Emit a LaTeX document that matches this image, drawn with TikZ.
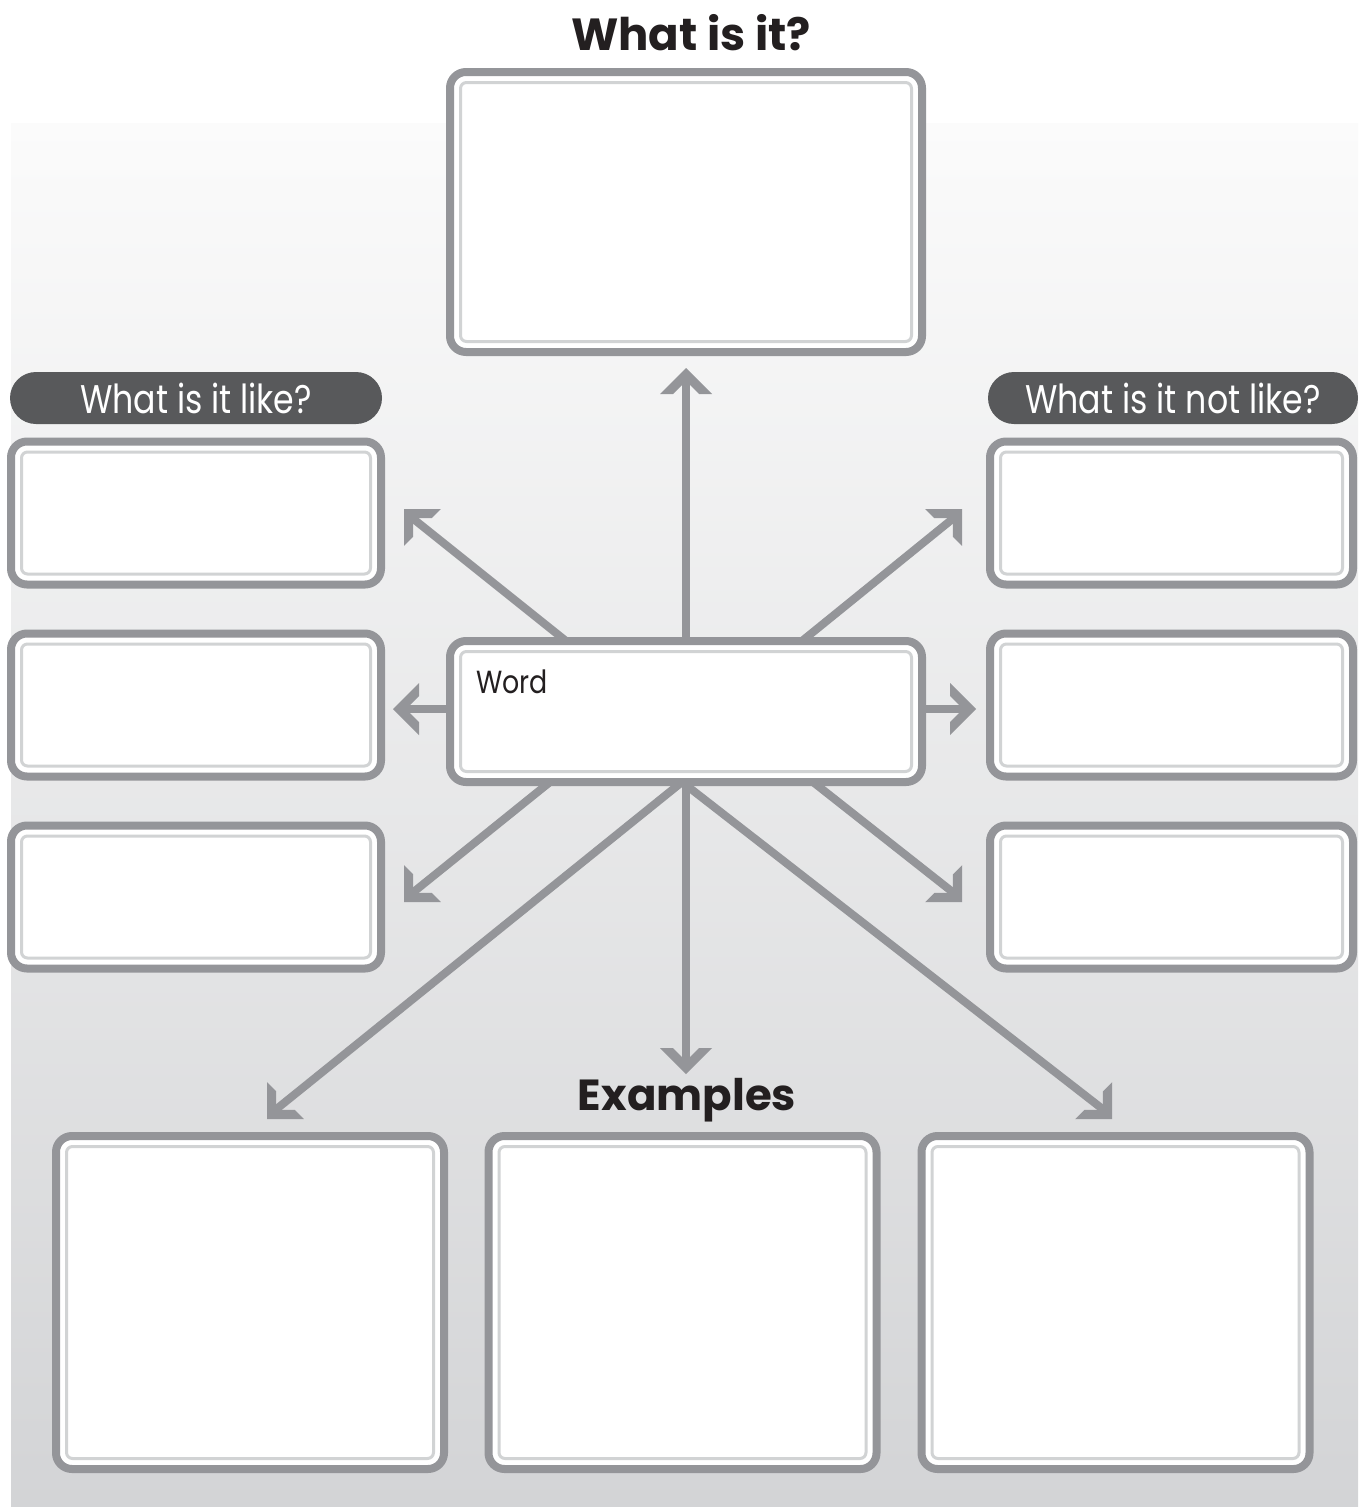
\documentclass[tikz,border=0pt]{standalone}
\usepackage{fontspec}
\setmainfont{Poppins}

\definecolor{frame}{HTML}{949599}
\definecolor{innerline}{HTML}{D1D3D4}
\definecolor{pill}{HTML}{58595B}
\definecolor{ink}{HTML}{231F20}
\definecolor{bgtop}{HTML}{FBFBFB}
\definecolor{bgbottom}{HTML}{D3D4D6}

% narrower setting of the light captions
\newcommand\narrowtext[1]{\scalebox{0.83}[1]{#1}}

% Chevron arrow head: a 90 degree corner with a notched back
\pgfdeclarearrow{
  name = Chev,
  setup code = {
    \pgfarrowssettipend{0pt}
    \pgfarrowssetlineend{-6pt}
    \pgfarrowssetvisualbackend{-26pt}
    \pgfarrowssetbackend{-26pt}
    \pgfarrowshullpoint{0pt}{0pt}
    \pgfarrowshullpoint{-26pt}{26pt}
    \pgfarrowshullpoint{-26pt}{-26pt}
  },
  drawing code = {
    \pgfpathmoveto{\pgfqpoint{0pt}{0pt}}
    \pgfpathlineto{\pgfqpoint{-26pt}{26pt}}
    \pgfpathlineto{\pgfqpoint{-26pt}{13pt}}
    \pgfpathlineto{\pgfqpoint{-13pt}{0pt}}
    \pgfpathlineto{\pgfqpoint{-26pt}{-13pt}}
    \pgfpathlineto{\pgfqpoint{-26pt}{-26pt}}
    \pgfpathclose
    \pgfusepathqfill
  }
}

\pgfdeclarelayer{bglayer}
\pgfdeclarelayer{arrowlayer}
\pgfsetlayers{bglayer,arrowlayer,main}

\begin{document}
\begin{tikzpicture}[x=1pt,y=-1pt,
  box/.style={draw=frame, line width=8pt, fill=white, rounded corners=16pt,
    inner sep=0pt, outer sep=0pt},
  lining/.style={draw=innerline, line width=3pt, rounded corners=6pt},
  pillbox/.style={fill=pill, rounded corners=26pt, minimum height=52pt,
    inner sep=0pt, outer sep=0pt, text=white,
    font=\fontsize{40}{40}\selectfont},
  heading/.style={text=ink, inner sep=0pt, anchor=base,
    font=\fontsize{45}{45}\selectfont\bfseries},
  conn/.style={draw=frame, line width=8pt, line join=round, -Chev},
]
\useasboundingbox (0,0) rectangle (1358,1507);

% page background
\begin{pgfonlayer}{bglayer}
  \fill[white] (0,0) rectangle (1358,1507);
  \shade[top color=bgtop, bottom color=bgbottom] (11,123) rectangle (1358,1507);
\end{pgfonlayer}

% headings
\node[heading] (title) at (691,50) {What is it?};
\node[heading, font=\fontsize{43.5}{43.5}\selectfont\bfseries] (examples) at (687,1110) {Examples};

% main boxes
\node[box, minimum width=472pt, minimum height=280pt] (what) at (686,212) {};
\node[box, minimum width=472pt, minimum height=141pt] (word) at (686,711.5) {};
\node[anchor=base west, inner sep=0pt, text=ink, font=\fontsize{32}{32}\selectfont]
  (wordlabel) at (476,693) {\scalebox{0.84}[1]{Word}};

% "like" column
\node[pillbox, minimum width=372pt] (likehead) at (196,398) {\narrowtext{What is it like?}};
\node[box, minimum width=370pt, minimum height=143pt] (like1) at (196,513) {};
\node[box, minimum width=370pt, minimum height=143pt] (like2) at (196,705) {};
\node[box, minimum width=370pt, minimum height=143pt] (like3) at (196,897) {};

% "not like" column
\node[pillbox, minimum width=370pt] (unlikehead) at (1173,398) {\narrowtext{What is it not like?}};
\node[box, minimum width=363pt, minimum height=143pt] (unlike1) at (1171.5,513) {};
\node[box, minimum width=363pt, minimum height=143pt] (unlike2) at (1171.5,705) {};
\node[box, minimum width=363pt, minimum height=143pt] (unlike3) at (1171.5,897) {};

% example boxes
\node[box, minimum width=388pt, minimum height=333pt] (ex1) at (250,1302.5) {};
\node[box, minimum width=388pt, minimum height=333pt] (ex2) at (682.5,1302.5) {};
\node[box, minimum width=388pt, minimum height=333pt] (ex3) at (1115.5,1302.5) {};

% light inner rule of every box
\foreach \n in {what,word,like1,like2,like3,unlike1,unlike2,unlike3,ex1,ex2,ex3}
  \draw[lining] ([shift={(10.5,10.5)}]\n.north west) rectangle ([shift={(-10.5,-10.5)}]\n.south east);

% arrow tips
\coordinate (tU)  at (686,368);
\coordinate (tUL) at (404,509);
\coordinate (tUR) at (962,509);
\coordinate (tL)  at (393,709);
\coordinate (tR)  at (976,709);
\coordinate (tDL) at (404,902);
\coordinate (tDR) at (962,902);
\coordinate (tD)  at (686,1074);
\coordinate (tEL) at (267,1119);
\coordinate (tER) at (1112,1119);

% connectors radiating from the word box
\begin{pgfonlayer}{arrowlayer}
  \draw[conn] (word.north) -- (tU);
  \draw[conn] ([xshift=-120pt]word.north) -- ([shift={(12,12)}]tUL) -- (tUL);
  \draw[conn] ([xshift=116pt]word.north) -- ([shift={(-12,12)}]tUR) -- (tUR);
  \draw[conn] (word.west |- tL) -- (tL);
  \draw[conn] (word.east |- tR) -- (tR);
  \draw[conn] ([xshift=-136pt]word.south) -- ([shift={(12,-12)}]tDL) -- (tDL);
  \draw[conn] ([xshift=127pt]word.south) -- ([shift={(-12,-12)}]tDR) -- (tDR);
  \draw[conn] (word.south) -- (tD);
  \draw[conn] ([xshift=-4pt]word.south) -- ([shift={(12,-12)}]tEL) -- (tEL);
  \draw[conn] ([xshift=-4pt]word.south) -- ([shift={(-12,-12)}]tER) -- (tER);
\end{pgfonlayer}
\end{tikzpicture}
\end{document}
